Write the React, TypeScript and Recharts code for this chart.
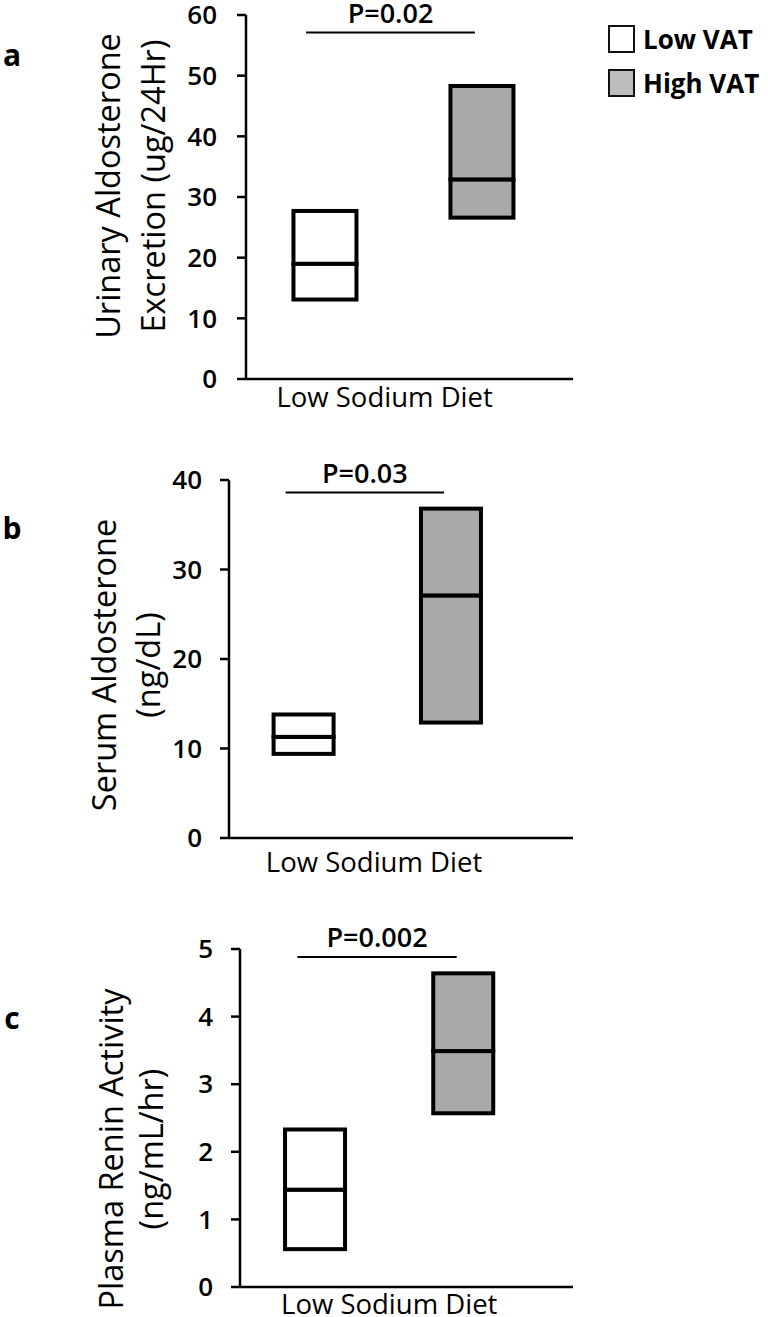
import React from "react";
import { BarChart, Bar, XAxis, YAxis, Cell, ReferenceLine, Legend, Label } from "recharts";

// groups (same for all three panels)
const groups = ["Low VAT", "High VAT"];
const groupX = [1, 2];
const groupFill = ["#ffffff", "#a9a9a9"];
const legendFill = ["#ffffff", "#bdbdbd"];
const category = "Low Sodium Diet";
const bracketX = [0.88, 1.955];

// a: urinary aldosterone excretion (ug/24Hr)
const urinaryMin = [13.1, 26.6];
const urinaryMedian = [19.0, 32.9];
const urinaryMax = [27.7, 48.3];
const urinaryTicks = [0, 10, 20, 30, 40, 50, 60];
const urinaryP = "P=0.02";
const urinaryPLevel = 57.1;

// b: serum aldosterone (ng/dL)
const serumMin = [9.4, 12.9];
const serumMedian = [11.3, 27.1];
const serumMax = [13.8, 36.8];
const serumTicks = [0, 10, 20, 30, 40];
const serumP = "P=0.03";
const serumPLevel = 38.6;

// c: plasma renin activity (ng/mL/hr)
const reninMin = [0.56, 2.57];
const reninMedian = [1.44, 3.49];
const reninMax = [2.33, 4.64];
const reninTicks = [0, 1, 2, 3, 4, 5];
const reninP = "P=0.002";
const reninPLevel = 4.88;

const FONT = '"Open Sans", "DejaVu Sans", sans-serif';

const buildRows = (min: number[], med: number[], max: number[]) =>
  groups.map((g, i) => ({
    group: g,
    x: groupX[i],
    base: min[i],
    lower: med[i] - min[i],
    upper: max[i] - med[i],
  }));

// box segment with a heavy outline
const BoxShape = (props: any) => {
  const { x, y, width, height, fill } = props;
  if (width == null || height == null) return null;
  return <rect x={x} y={y} width={width} height={height} fill={fill} stroke="#000" strokeWidth={4} />;
};

const LegendBox = () => (
  <div style={{ fontFamily: FONT }}>
    {groups.map((g, i) => (
      <div key={g} style={{ display: "flex", alignItems: "center", height: 44 }}>
        <div
          style={{
            width: 23,
            height: 24,
            border: "2.5px solid #111",
            background: legendFill[i],
            marginRight: 8,
          }}
        />
        <span style={{ fontSize: 26, fontWeight: 700, color: "#000", lineHeight: 1 }}>{g}</span>
      </div>
    ))}
  </div>
);

interface PanelProps {
  letter: string;
  letterY: number;
  title: string[];
  titleX: number[];
  titleY: number;
  rows: any[];
  ticks: number[];
  pText: string;
  pLevel: number;
  top: number;
  height: number;
  marginTop: number;
  xAxisHeight: number;
  xTickMargin: number;
  yAxisWidth: number;
  yTickMargin: number;
  xDomain: number[];
  labelX: number;
  barSize: number;
  legend?: boolean;
}

function Panel(p: PanelProps) {
  const yMax = p.ticks[p.ticks.length - 1];
  const titleContent = () => (
    <g>
      <text x={12} y={p.letterY} textAnchor="middle" dominantBaseline="central" fontSize={30} fontWeight={700} fill="#000">
        {p.letter}
      </text>
      {p.title.map((t, i) => (
        <text
          key={t}
          x={p.titleX[i]}
          y={p.titleY}
          transform={`rotate(-90, ${p.titleX[i]}, ${p.titleY})`}
          textAnchor="middle"
          dominantBaseline="central"
          fontSize={32.5}
          fill="#000"
        >
          {t}
        </text>
      ))}
    </g>
  );

  return (
    <div style={{ position: "absolute", left: 0, top: p.top }}>
      <BarChart
        width={768}
        height={p.height}
        data={p.rows}
        barSize={p.barSize}
        margin={{ top: p.marginTop, right: 195, bottom: 0, left: 0 }}
        style={{ fontFamily: FONT }}
      >
        <XAxis
          type="number"
          dataKey="x"
          domain={p.xDomain}
          allowDataOverflow
          ticks={[p.labelX]}
          interval={0}
          tickFormatter={() => category}
          tickLine={false}
          tickSize={0}
          tickMargin={p.xTickMargin}
          height={p.xAxisHeight}
          axisLine={{ stroke: "#000", strokeWidth: 2.5 }}
          tick={{ fill: "#000", fontSize: 27.5 }}
        />
        <YAxis
          type="number"
          domain={[0, yMax]}
          ticks={p.ticks}
          interval={0}
          width={p.yAxisWidth}
          tickSize={9}
          tickMargin={p.yTickMargin}
          axisLine={{ stroke: "#000", strokeWidth: 2.5 }}
          tickLine={{ stroke: "#000", strokeWidth: 2.5 }}
          tick={{ fill: "#000", fontSize: 26, fontWeight: 600 }}
          label={<Label content={titleContent} />}
        />
        <Bar dataKey="base" stackId="box" fill="none" stroke="none" isAnimationActive={false} />
        <Bar dataKey="lower" stackId="box" shape={BoxShape} isAnimationActive={false}>
          {p.rows.map((r, i) => (
            <Cell key={r.group} fill={groupFill[i]} />
          ))}
        </Bar>
        <Bar dataKey="upper" stackId="box" shape={BoxShape} isAnimationActive={false}>
          {p.rows.map((r, i) => (
            <Cell key={r.group} fill={groupFill[i]} />
          ))}
        </Bar>
        <ReferenceLine
          segment={[
            { x: bracketX[0], y: p.pLevel },
            { x: bracketX[1], y: p.pLevel },
          ]}
          stroke="#000"
          strokeWidth={2}
          label={{ value: p.pText, position: "top", offset: 10, fill: "#000", fontSize: 27, fontWeight: 600 }}
        />
        {p.legend && (
          <Legend
            layout="vertical"
            align="center"
            verticalAlign="middle"
            content={<LegendBox />}
            wrapperStyle={{ position: "absolute", left: 608, top: 37, width: 160, height: 90 }}
          />
        )}
      </BarChart>
    </div>
  );
}

export default function App() {
  return (
    <div style={{ position: "absolute", left: 0, top: 0, width: 768, height: 1317, background: "#fff", fontFamily: FONT, overflow: "hidden" }}>
      <Panel
        letter="a"
        letterY={74}
        title={["Urinary Aldosterone", "Excretion (ug/24Hr)"]}
        titleX={[107, 152]}
        titleY={206}
        rows={buildRows(urinaryMin, urinaryMedian, urinaryMax)}
        ticks={urinaryTicks}
        pText={urinaryP}
        pLevel={urinaryPLevel}
        top={-20}
        height={440}
        marginTop={35}
        xAxisHeight={41}
        xTickMargin={8}
        yAxisWidth={246}
        yTickMargin={20}
        xDomain={[0.497, 2.58]}
        labelX={1.38}
        barSize={63}
        legend
      />
      <Panel
        letter="b"
        letterY={87}
        title={["Serum Aldosterone", "(ng/dL)"]}
        titleX={[103, 147]}
        titleY={225}
        rows={buildRows(serumMin, serumMedian, serumMax)}
        ticks={serumTicks}
        pText={serumP}
        pLevel={serumPLevel}
        top={440}
        height={444}
        marginTop={40}
        xAxisHeight={46}
        xTickMargin={14}
        yAxisWidth={229}
        yTickMargin={18}
        xDomain={[0.496, 2.83]}
        labelX={1.48}
        barSize={60}
      />
      <Panel
        letter="c"
        letterY={127}
        title={["Plasma Renin Activity", "(ng/mL/hr)"]}
        titleX={[110, 150]}
        titleY={259}
        rows={buildRows(reninMin, reninMedian, reninMax)}
        ticks={reninTicks}
        pText={reninP}
        pLevel={reninPLevel}
        top={890}
        height={440}
        marginTop={59}
        xAxisHeight={43}
        xTickMargin={7}
        yAxisWidth={240}
        yTickMargin={18}
        xDomain={[0.493, 2.74]}
        labelX={1.5}
        barSize={60}
      />
    </div>
  );
}
